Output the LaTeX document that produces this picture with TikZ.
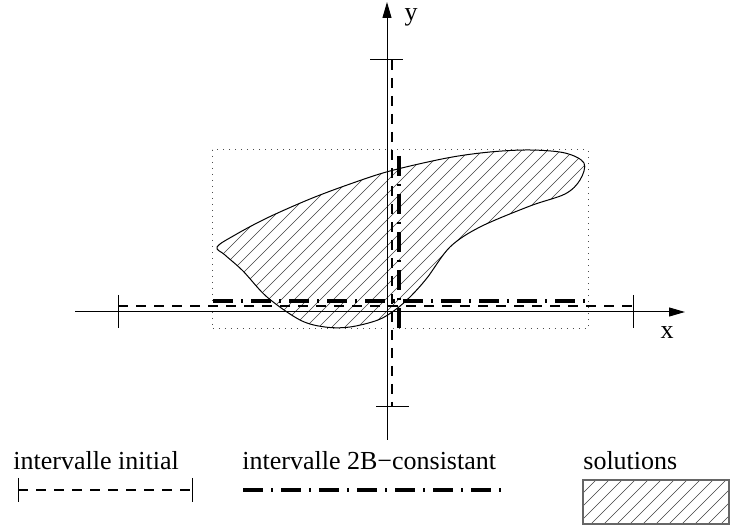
\documentclass[tikz,border=0pt]{standalone}
\usepackage{fontspec}
\setmainfont{Liberation Serif}
\usepackage{tikz}
\usetikzlibrary{arrows.meta, positioning}

\begin{document}
\begin{tikzpicture}[
    x=0.5pt, y=-0.5pt,
    axis/.style={line width=0.5pt, -{Triangle[length=8pt,width=4.5pt]}},
    tickmark/.style={line width=0.5pt},
    initbound/.style={line width=0.6pt, dash pattern=on 5pt off 4pt},
    consbound/.style={line width=2pt, dash pattern=on 10pt off 4pt on 1pt off 4pt},
    boxline/.style={line width=0.5pt, black!70, dash pattern=on 0.6pt off 2.4pt},
    hatch/.style={line width=0.35pt, black!75},
    lbl/.style={font=\fontsize{13}{15}\selectfont, inner sep=0pt}
]
    \useasboundingbox (0,0) rectangle (730,529);

    % solution set
    \def\solpath{plot[smooth cycle, tension=0.55] coordinates {
        (217,247) (235,235) (267,218) (310,199) (350,184) (390,171)
        (447,158) (490,152) (530,150) (565,153) (584,163) (580,180)
        (565,194) (530,206) (480,227) (450,247) (427,278) (410,297)
        (395,310) (378,320) (350,327) (325,327) (300,320) (267,297)
        (243,271) (225,255)}}
    \begin{scope}
        \clip \solpath;
        \foreach \c in {360,373,...,940}
            \draw[hatch] (\c-100,100) -- (\c-350,350);
    \end{scope}
    \draw[line width=0.5pt] \solpath;

    % box around the solutions
    \draw[boxline] (212,150) rectangle (588,329);

    % axes
    \coordinate (xl) at (75,312);
    \coordinate (xr) at (685,312);
    \coordinate (yb) at (387,440);
    \coordinate (yt) at (387,2);
    \draw[axis] (xl) -- (xr);
    \draw[axis] (yb) -- (yt);
    \node[lbl] (xlab) at (667,333) {x};
    \node[lbl] (ylab) at (411,17) {y};

    % initial interval
    \coordinate (xa) at (118,306);
    \coordinate (xb) at (633,306);
    \coordinate (ya) at (392,60);
    \coordinate (yc) at (392,407);
    \draw[initbound] (xa) -- (xb);
    \draw[initbound] (ya) -- (yc);
    \draw[tickmark] (118,295) -- (118,328);
    \draw[tickmark] (633,295) -- (633,328);
    \draw[tickmark] (370,60) -- (403,60);
    \draw[tickmark] (376,407) -- (409,407);

    % 2B-consistent interval
    \coordinate (ca) at (213,301);
    \coordinate (cb) at (585,301);
    \coordinate (cc) at (399,156);
    \coordinate (cd) at (399,328);
    \draw[consbound] (ca) -- (cb);
    \draw[consbound] (cc) -- (cd);

    % legend
    \node[lbl, anchor=base west] (leginit) at (13,470) {intervalle initial};
    \node[lbl, anchor=base west] (legcons) at (242,470) {intervalle 2B−consistant};
    \node[lbl, anchor=base west] (legsol) at (583,470) {solutions};

    \coordinate (la) at (18,490);
    \coordinate (lb) at (192,490);
    \draw[initbound] (la) -- (lb);
    \draw[tickmark] (18,478) -- (18,502);
    \draw[tickmark] (192,478) -- (192,502);

    \coordinate (lc) at (243,490);
    \coordinate (ld) at (505,490);
    \draw[consbound] (lc) -- (ld);

    \begin{scope}
        \clip (583,480) rectangle (729,524);
        \foreach \c in {1050,1063,...,1270}
            \draw[hatch] (\c-470,470) -- (\c-540,540);
    \end{scope}
    \draw[line width=0.7pt, black!60] (583,480) rectangle (729,524);
\end{tikzpicture}
\end{document}
